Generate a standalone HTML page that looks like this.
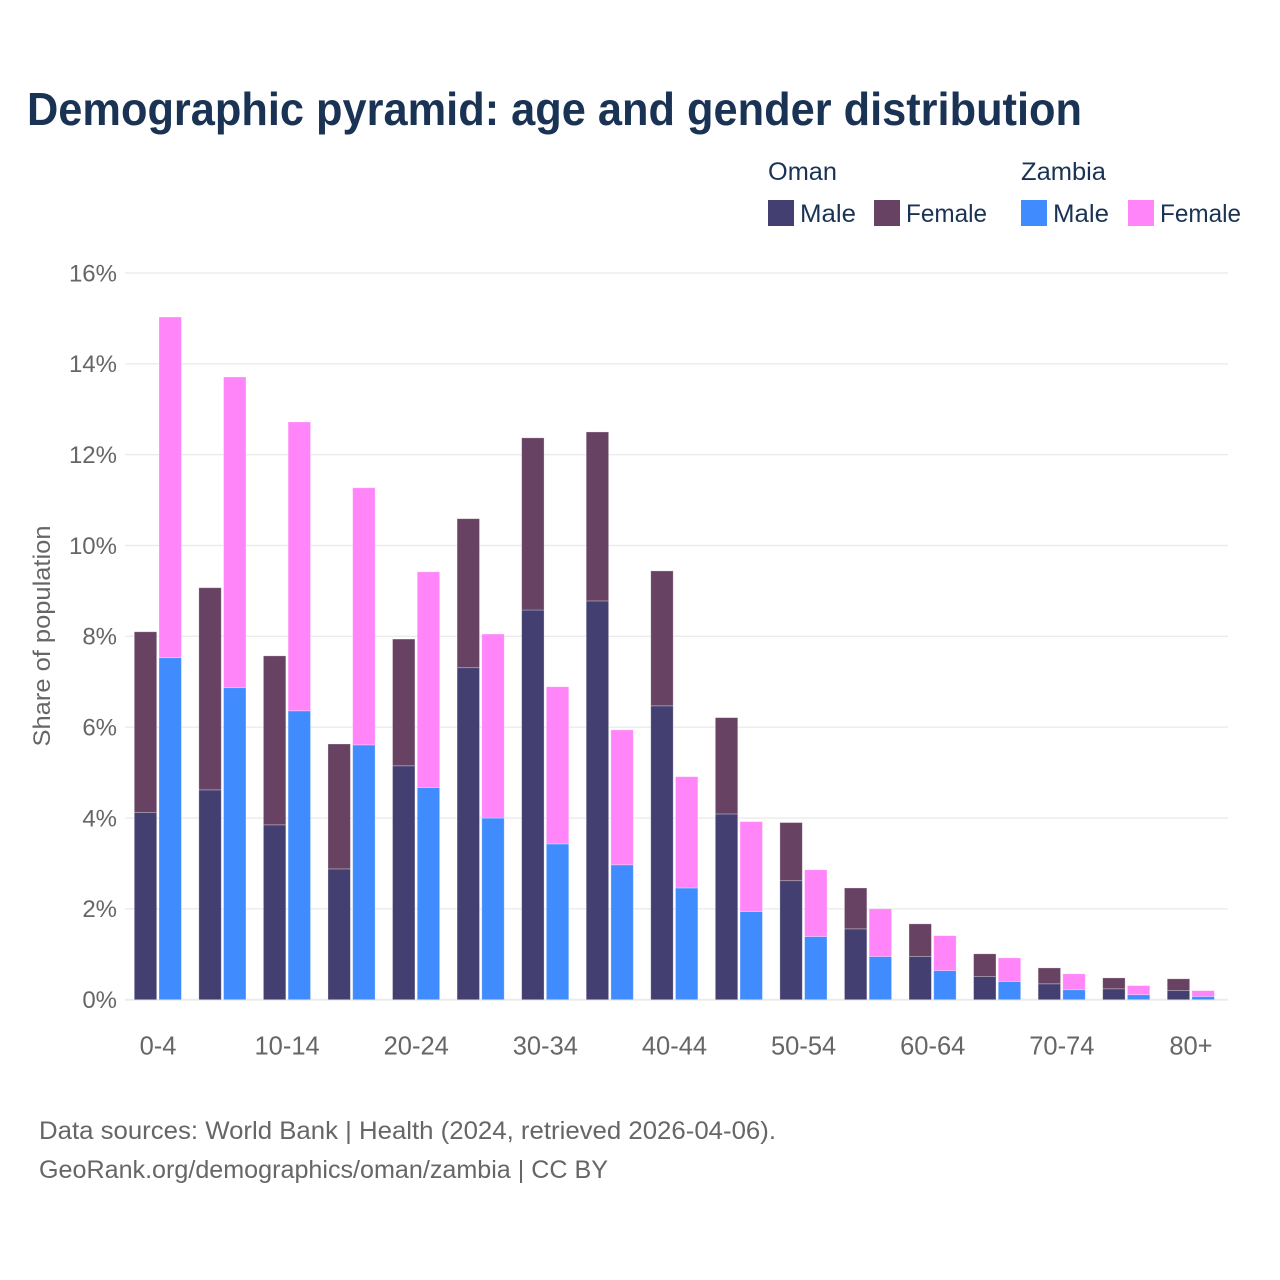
<!DOCTYPE html>
<html lang="en">
<head>
<meta charset="utf-8">
<title>Demographic pyramid: age and gender distribution</title>
<style>
html,body{margin:0;padding:0;background:#fff;width:1280px;height:1280px;overflow:hidden}
svg{display:block;font-family:"Liberation Sans",sans-serif}
</style>
</head>
<body>
<svg id="chart" width="1280" height="1280" viewBox="0 0 1280 1280" xmlns="http://www.w3.org/2000/svg">
  <rect x="0" y="0" width="1280" height="1280" fill="#fff"/>
  <text x="27" y="125" font-size="46" font-weight="700" fill="#1a3354" textLength="1055" lengthAdjust="spacingAndGlyphs">Demographic pyramid: age and gender distribution</text>

  <g id="grid"></g>
  <g id="ylabels"></g>
  <g id="bars"></g>
  <g id="xlabels"></g>

  <text transform="translate(50,636) rotate(-90)" text-anchor="middle" font-size="24" fill="#666" textLength="221" lengthAdjust="spacingAndGlyphs">Share of population</text>

  <g font-size="25" fill="#1a3354">
    <text x="768" y="180" textLength="69" lengthAdjust="spacingAndGlyphs">Oman</text>
    <text x="1021" y="180" textLength="85" lengthAdjust="spacingAndGlyphs">Zambia</text>
    <g>
      <rect x="768" y="200" width="26" height="26" fill="#433f70"/>
      <text x="800" y="222" textLength="56" lengthAdjust="spacingAndGlyphs">Male</text>
    </g>
    <g>
      <rect x="874" y="200" width="26" height="26" fill="#674262"/>
      <text x="906" y="222" textLength="81" lengthAdjust="spacingAndGlyphs">Female</text>
    </g>
    <g>
      <rect x="1021" y="200" width="26" height="26" fill="#408cff"/>
      <text x="1053" y="222" textLength="56" lengthAdjust="spacingAndGlyphs">Male</text>
    </g>
    <g>
      <rect x="1128" y="200" width="26" height="26" fill="#ff85f8"/>
      <text x="1160" y="222" textLength="81" lengthAdjust="spacingAndGlyphs">Female</text>
    </g>
  </g>

  <text x="39" y="1139" font-size="25" fill="#666" textLength="737" lengthAdjust="spacingAndGlyphs">Data sources: World Bank | Health (2024, retrieved 2026-04-06).</text>
  <a>
    <text x="39" y="1178" font-size="25" fill="#666" textLength="569" lengthAdjust="spacingAndGlyphs">GeoRank.org/demographics/oman/zambia | CC BY</text>
  </a>
</svg>
<script>
const categories = ["0-4","5-9","10-14","15-19","20-24","25-29","30-34","35-39","40-44","45-49","50-54","55-59","60-64","65-69","70-74","75-79","80+"];
const tickLabels = ["0-4","10-14","20-24","30-34","40-44","50-54","60-64","70-74","80+"];
const yTicks = [0,2,4,6,8,10,12,14,16];
const omanMale = [4.12,4.62,3.85,2.88,5.15,7.31,8.58,8.78,6.47,4.09,2.62,1.56,0.95,0.51,0.35,0.24,0.20];
const omanFemale = [3.98,4.45,3.72,2.75,2.79,3.28,3.79,3.72,2.97,2.12,1.28,0.90,0.72,0.50,0.35,0.24,0.26];
const zambiaMale = [7.53,6.87,6.36,5.61,4.67,4.00,3.43,2.97,2.46,1.94,1.39,0.95,0.64,0.40,0.22,0.11,0.07];
const zambiaFemale = [7.50,6.84,6.36,5.66,4.75,4.05,3.46,2.97,2.45,1.98,1.47,1.05,0.77,0.52,0.35,0.20,0.13];

const SVGNS = "http://www.w3.org/2000/svg";
const yScale = v => 999.7 - v * 45.42;
const xCenter = i => 158 + i * 64.56;
const BAR_W = 22.4;

function drawBar(group, x, v0, v1, fill) {
  const r = document.createElementNS(SVGNS, "rect");
  r.setAttribute("x", x);
  r.setAttribute("y", yScale(v1));
  r.setAttribute("width", BAR_W);
  r.setAttribute("height", Math.max(0, yScale(v0) - yScale(v1)));
  r.setAttribute("fill", fill);
  r.setAttribute("stroke", "#ffffff");
  r.setAttribute("stroke-opacity", "0.35");
  r.setAttribute("stroke-width", "0.8");
  group.appendChild(r);
  return r;
}

const grid = document.getElementById("grid");
const ylabels = document.getElementById("ylabels");
yTicks.forEach(t => {
  const l = document.createElementNS(SVGNS, "line");
  
  
  l.setAttribute("x1", 125);
  l.setAttribute("x2", 1228);
  l.setAttribute("y1", yScale(t));
  l.setAttribute("y2", yScale(t));
  l.setAttribute("stroke", "#ebebeb");
  l.setAttribute("stroke-width", t === 0 ? 2 : 1.4);
  grid.appendChild(l);
  const txt = document.createElementNS(SVGNS, "text");
  
  
  txt.setAttribute("x", 117);
  txt.setAttribute("y", yScale(t) + 8.3);
  txt.setAttribute("text-anchor", "end");
  txt.setAttribute("font-size", "24");
  txt.setAttribute("fill", "#666");
  txt.textContent = t + "%";
  ylabels.appendChild(txt);
});

const bars = document.getElementById("bars");
categories.forEach((c, i) => {
  const cx = xCenter(i);
  const left = cx - 23.7;
  const right = cx + 1;
  let r;
  r = drawBar(bars, left, 0, omanMale[i], "#433f70");
  
  
  r = drawBar(bars, left, omanMale[i], omanMale[i] + omanFemale[i], "#674262");
  
  
  r = drawBar(bars, right, 0, zambiaMale[i], "#408cff");
  
  
  r = drawBar(bars, right, zambiaMale[i], zambiaMale[i] + zambiaFemale[i], "#ff85f8");
  
  
});

const xlabels = document.getElementById("xlabels");
tickLabels.forEach(label => {
  const idx = categories.indexOf(label);
  const t = document.createElementNS(SVGNS, "text");
  
  
  t.setAttribute("x", xCenter(idx));
  t.setAttribute("y", 1054.5);
  t.setAttribute("text-anchor", "middle");
  t.setAttribute("font-size", "25.5");
  t.setAttribute("fill", "#666");
  t.textContent = label;
  xlabels.appendChild(t);
});
</script>
</body>
</html>
